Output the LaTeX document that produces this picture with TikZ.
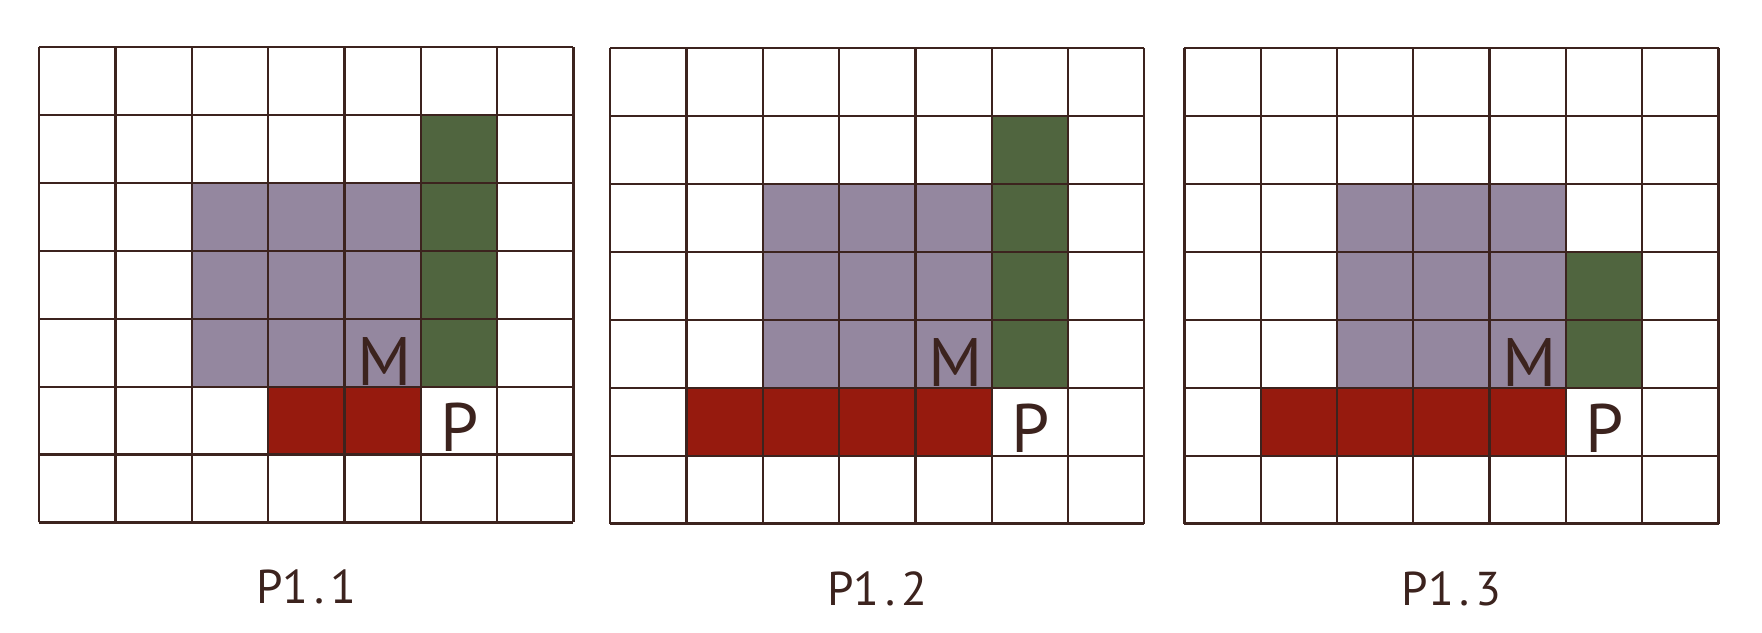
\documentclass[tikz,border=0pt]{standalone}
\usepackage{fontspec}
\setmainfont{PT Sans}
\usepackage{tikz}
\usetikzlibrary{positioning}

\definecolor{linebrown}{RGB}{60,35,30}
\definecolor{cellpurple}{RGB}{148,135,159}
\definecolor{cellgreen}{RGB}{80,101,63}
\definecolor{cellred}{RGB}{150,26,14}

\begin{document}
\begin{tikzpicture}[x=1.526cm,y=1.358cm,
    gridline/.style={draw=linebrown,line width=1.3pt,step={(1,1)}},
    letter/.style={font=\fontsize{39}{39}\selectfont,text=linebrown,inner sep=0pt,anchor=base},
    caption/.style={font=\fontsize{27}{27}\selectfont,text=linebrown,inner sep=0pt,anchor=base}]
    \useasboundingbox (0,0) rectangle (23.093,9.308);

    % P1.1
    \begin{scope}[shift={(0.515,1.613)}]
        \fill[cellred] (3,1) rectangle (5,2); % red row
        \fill[cellpurple] (2,2) rectangle (5,5); % purple block
        \fill[cellgreen] (5,2) rectangle (6,6); % green column
        \draw[gridline] (0,0) grid (7,7);
        \node[letter] (m1) at (4.53,2.02) {M};
        \node[letter] (p1) at (5.51,1.05) {P};
        \node[caption] (cap1) at (3.5,-1.2) {P1\hspace{0.12em}.\hspace{0.12em}1};
    \end{scope}

    % P1.2
    \begin{scope}[shift={(7.997,1.597)}]
        \fill[cellred] (1,1) rectangle (5,2); % red row
        \fill[cellpurple] (2,2) rectangle (5,5); % purple block
        \fill[cellgreen] (5,2) rectangle (6,6); % green column
        \draw[gridline] (0,0) grid (7,7);
        \node[letter] (m2) at (4.53,2.02) {M};
        \node[letter] (p2) at (5.51,1.05) {P};
        \node[caption] (cap2) at (3.5,-1.2) {P1\hspace{0.12em}.\hspace{0.12em}2};
    \end{scope}

    % P1.3
    \begin{scope}[shift={(15.523,1.597)}]
        \fill[cellred] (1,1) rectangle (5,2); % red row
        \fill[cellpurple] (2,2) rectangle (5,5); % purple block
        \fill[cellgreen] (5,2) rectangle (6,4); % green column
        \draw[gridline] (0,0) grid (7,7);
        \node[letter] (m3) at (4.53,2.02) {M};
        \node[letter] (p3) at (5.51,1.05) {P};
        \node[caption] (cap3) at (3.5,-1.2) {P1\hspace{0.12em}.\hspace{0.12em}3};
    \end{scope}
\end{tikzpicture}
\end{document}
